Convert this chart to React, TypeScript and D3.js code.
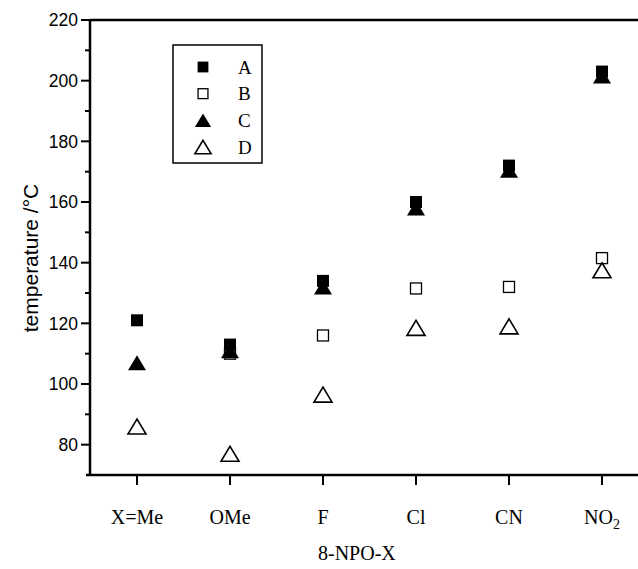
import React from "react";
import * as d3 from "d3";

const categories = ["X=Me", "OMe", "F", "Cl", "CN", "NO2"];
const seriesA = [121, 113, 134, 160, 172, 203];
const seriesB = [null, 110, 116, 131.5, 132, 141.5];
const seriesC = [107, 111, 132, 158, 170.5, 201.5];
const seriesD = [86, 77, 96.5, 118.5, 119, 137.5];
const majorTicks = [80, 100, 120, 140, 160, 180, 200, 220];
const minorTicks = [90, 110, 130, 150, 170, 190, 210];
const legendLabels = ["A", "B", "C", "D"];

const W = 638, H = 569;
const left = 90, top = 20, bottom = 475;

type Kind = "fsq" | "osq" | "ftri" | "otri";

function Marker({ x, y, kind, s = 1 }: { x: number; y: number; kind: Kind; s?: number }) {
  if (kind === "fsq") {
    const a = 12 * s;
    return <rect x={x - a / 2} y={y - a / 2} width={a} height={a} fill="#000" />;
  }
  if (kind === "osq") {
    const a = 11 * s;
    return <rect x={x - a / 2} y={y - a / 2} width={a} height={a} fill="#fff" stroke="#000" strokeWidth={1.3} />;
  }
  const w = 18 * s, h = 15 * s;
  const p = `M${x - w / 2},${y + h / 2}L${x + w / 2},${y + h / 2}L${x},${y - h / 2}Z`;
  if (kind === "ftri") return <path d={p} fill="#000" />;
  return <path d={p} fill="#fff" stroke="#000" strokeWidth={1.6} strokeLinejoin="miter" />;
}

export default function App() {
  const y = d3.scaleLinear().domain([70, 220]).range([bottom, top]);
  const x = d3.scalePoint<string>().domain(categories).range([137, 602]);
  const series: { vals: (number | null)[]; kind: Kind }[] = [
    { vals: seriesB, kind: "osq" },
    { vals: seriesD, kind: "otri" },
    { vals: seriesA, kind: "fsq" },
    { vals: seriesC, kind: "ftri" },
  ];
  const legendKinds: Kind[] = ["fsq", "osq", "ftri", "otri"];
  const legendY = d3.scalePoint<string>().domain(legendLabels).range([67, 147]);
  return (
    <svg width={W} height={H} style={{ display: "block", position: "absolute", left: 0, top: 0 }}>
      <rect width={W} height={H} fill="#fff" />
      {/* axes */}
      <line x1={left} x2={W} y1={top} y2={top} stroke="#000" strokeWidth={2.5} />
      <line x1={left} x2={left} y1={top - 1} y2={bottom + 1} stroke="#000" strokeWidth={2.5} />
      <line x1={86} x2={W} y1={bottom} y2={bottom} stroke="#000" strokeWidth={2.5} />
      {majorTicks.map((t) => (
        <g key={"M" + t}>
          <line x1={left - 9} x2={left} y1={y(t)} y2={y(t)} stroke="#000" strokeWidth={2} />
          <text x={78} y={y(t)} dy="0.36em" textAnchor="end" fontFamily="Liberation Sans, Arial, sans-serif" fontSize={17.5}>
            {t}
          </text>
        </g>
      ))}
      {minorTicks.map((t) => (
        <line key={"m" + t} x1={left - 5} x2={left} y1={y(t)} y2={y(t)} stroke="#000" strokeWidth={2} />
      ))}
      {categories.map((c) => (
        <g key={c}>
          <line x1={x(c)!} x2={x(c)!} y1={bottom} y2={bottom + 10} stroke="#000" strokeWidth={2} />
          <text x={x(c)!} y={524} textAnchor="middle" fontFamily="Liberation Serif, Times New Roman, serif" fontSize={20}>
            {c === "NO2" ? (
              <>
                NO<tspan fontSize={14} dy={5}>2</tspan>
              </>
            ) : (
              c
            )}
          </text>
        </g>
      ))}
      <text x={318} y={560} textAnchor="start" fontFamily="Liberation Serif, Times New Roman, serif" fontSize={20}>
        8-NPO-X
      </text>
      <text
        transform={`translate(38,${258}) rotate(-90)`}
        textAnchor="middle"
        fontFamily="Liberation Sans, Arial, sans-serif"
        fontSize={21}
      >
        temperature /°C
      </text>
      {/* data */}
      {series.map((s, si) =>
        s.vals.map((v, i) =>
          v == null ? null : <Marker key={si + "-" + i} x={x(categories[i])!} y={y(v)} kind={s.kind} />
        )
      )}
      {/* legend */}
      <rect x={173} y={45} width={89} height={118} fill="#fff" stroke="#000" strokeWidth={1.5} />
      {legendLabels.map((l, i) => (
        <g key={l}>
          <Marker x={203} y={legendY(l)!} kind={legendKinds[i]} s={0.9} />
          <text x={238} y={legendY(l)!} dy="0.35em" fontFamily="Liberation Serif, Times New Roman, serif" fontSize={19}>
            {l}
          </text>
        </g>
      ))}
    </svg>
  );
}
